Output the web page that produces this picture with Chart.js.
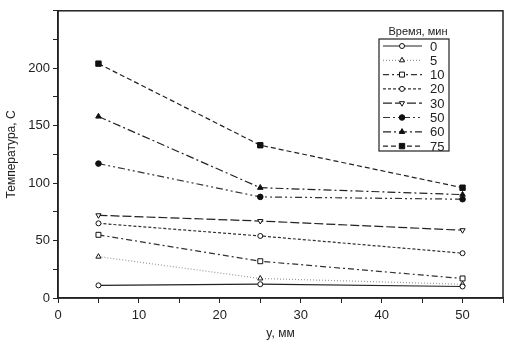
<!DOCTYPE html>
<html>
<head>
<meta charset="utf-8">
<script src="https://cdn.jsdelivr.net/npm/chart.js@4.4.1/dist/chart.umd.min.js"></script>
<style>
  html, body { margin: 0; padding: 0; background: #fff; }
  #wrap { width: 508px; height: 345px; }
</style>
</head>
<body>
<div id="wrap"><canvas id="chart" width="508" height="345"></canvas></div>
<script>
// данные
const positions = [5, 25, 50]; // y, мм
const times = ['0', '5', '10', '20', '30', '50', '60', '75'];
const t0 = [11, 12, 10];
const t5 = [36, 17, 12];
const t10 = [55, 32, 17];
const t20 = [65, 54, 39];
const t30 = [72, 67, 59];
const t50 = [117, 88, 86];
const t60 = [158, 96, 90];
const t75 = [204, 133, 96];
const seriesValues = [t0, t5, t10, t20, t30, t50, t60, t75];

// стили линий
const styles = [
  { dash: [], point: 'circle', r: 2.5, fill: '#fff', color: '#222', rot: 0 },
  { dash: [1, 2], point: 'triangle', r: 3, fill: '#fff', color: '#999', rot: 0 },
  { dash: [6, 3, 2, 3], point: 'rect', r: 3.5, fill: '#fff', color: '#333', rot: 0 },
  { dash: [3, 2], point: 'circle', r: 2.5, fill: '#fff', color: '#333', rot: 0 },
  { dash: [9, 3], point: 'triangle', r: 3, fill: '#fff', color: '#222', rot: 180 },
  { dash: [7, 3, 2, 3, 2, 3], point: 'circle', r: 2.8, fill: '#111', color: '#333', rot: 0 },
  { dash: [8, 3, 2, 3], point: 'triangle', r: 3.2, fill: '#111', color: '#222', rot: 0 },
  { dash: [5, 3], point: 'rect', r: 3.8, fill: '#111', color: '#222', rot: 0 }
];

const datasets = seriesValues.map((vals, i) => ({
  label: times[i],
  data: positions.map((x, j) => ({ x: x, y: vals[j] })),
  borderColor: styles[i].color,
  borderWidth: 1.2,
  borderDash: styles[i].dash,
  pointStyle: styles[i].point,
  pointRotation: styles[i].rot,
  pointRadius: styles[i].r,
  pointBackgroundColor: styles[i].fill,
  pointBorderColor: '#111',
  pointBorderWidth: 1,
  tension: 0,
  fill: false
}));

// рамка вокруг области графика
const frame = {
  id: 'frame',
  afterDraw(chart) {
    const a = chart.chartArea, c = chart.ctx;
    c.save();
    c.strokeStyle = '#222';
    c.lineWidth = 1.5;
    c.strokeRect(a.left, a.top, a.right - a.left, a.bottom - a.top);
    c.restore();
  }
};

// легенда в рамке
const boxLegend = {
  id: 'boxLegend',
  afterDraw(chart) {
    const c = chart.ctx;
    const left = 379, top = 39, right = 449, bottom = 151;
    c.save();
    c.fillStyle = '#fff';
    c.fillRect(left, top, right - left, bottom - top);
    c.strokeStyle = '#222';
    c.lineWidth = 1.2;
    c.strokeRect(left, top, right - left, bottom - top);
    c.fillStyle = '#222';
    c.font = '11px "Liberation Sans", Arial, sans-serif';
    c.textAlign = 'center';
    c.textBaseline = 'middle';
    c.fillText('Время, мин', 418, 32);
    c.textAlign = 'left';
    c.font = '13px "Liberation Sans", Arial, sans-serif';
    chart.data.datasets.forEach((ds, i) => {
      const y = 46 + i * 14.3;
      c.strokeStyle = ds.borderColor;
      c.lineWidth = 1.2;
      c.setLineDash(ds.borderDash);
      c.beginPath();
      c.moveTo(383, y);
      c.lineTo(422, y);
      c.stroke();
      c.setLineDash([]);
      c.fillStyle = ds.pointBackgroundColor;
      c.strokeStyle = '#111';
      c.lineWidth = 1;
      Chart.helpers.drawPoint(c, { pointStyle: ds.pointStyle, rotation: ds.pointRotation, radius: ds.pointRadius, borderWidth: 1 }, 402, y);
      c.fillStyle = '#222';
      c.fillText(ds.label, 430, y + 1);
    });
    c.restore();
  }
};

new Chart(document.getElementById('chart').getContext('2d'), {
  type: 'line',
  data: { datasets: datasets },
  options: {
    responsive: false,
    animation: false,
    layout: { padding: { top: 10, right: 5, left: 0, bottom: 0 } },
    plugins: { legend: { display: false }, tooltip: { enabled: false } },
    scales: {
      x: {
        type: 'linear',
        min: 0,
        max: 55,
        border: { display: true, color: '#222', width: 1.5 },
        grid: { drawOnChartArea: false, drawTicks: true, tickLength: 5, color: '#222' },
        ticks: {
          stepSize: 5,
          autoSkip: false,
          maxRotation: 0,
          color: '#222',
          font: { size: 13, family: '"Liberation Sans", Arial, sans-serif' },
          padding: 5,
          callback: v => (v % 10 === 0 ? String(v) : '')
        },
        title: {
          display: true,
          text: 'y, мм',
          color: '#222',
          font: { size: 12, family: '"Liberation Sans", Arial, sans-serif' },
          padding: { top: 1 }
        },
        afterFit: s => { s.height = 47; }
      },
      y: {
        min: 0,
        max: 250,
        border: { display: true, color: '#222', width: 1.5 },
        grid: { drawOnChartArea: false, drawTicks: true, tickLength: 5, color: '#222' },
        ticks: {
          stepSize: 25,
          autoSkip: false,
          color: '#222',
          font: { size: 13, family: '"Liberation Sans", Arial, sans-serif' },
          padding: 3,
          callback: v => (v % 50 === 0 && v < 250 ? String(v) : '')
        },
        title: {
          display: true,
          text: 'Температура, С',
          color: '#222',
          font: { size: 12, family: '"Liberation Sans", Arial, sans-serif' },
          padding: { bottom: 4 }
        },
        afterFit: s => { s.width = 58; }
      }
    }
  },
  plugins: [frame, boxLegend]
});
</script>
</body>
</html>
